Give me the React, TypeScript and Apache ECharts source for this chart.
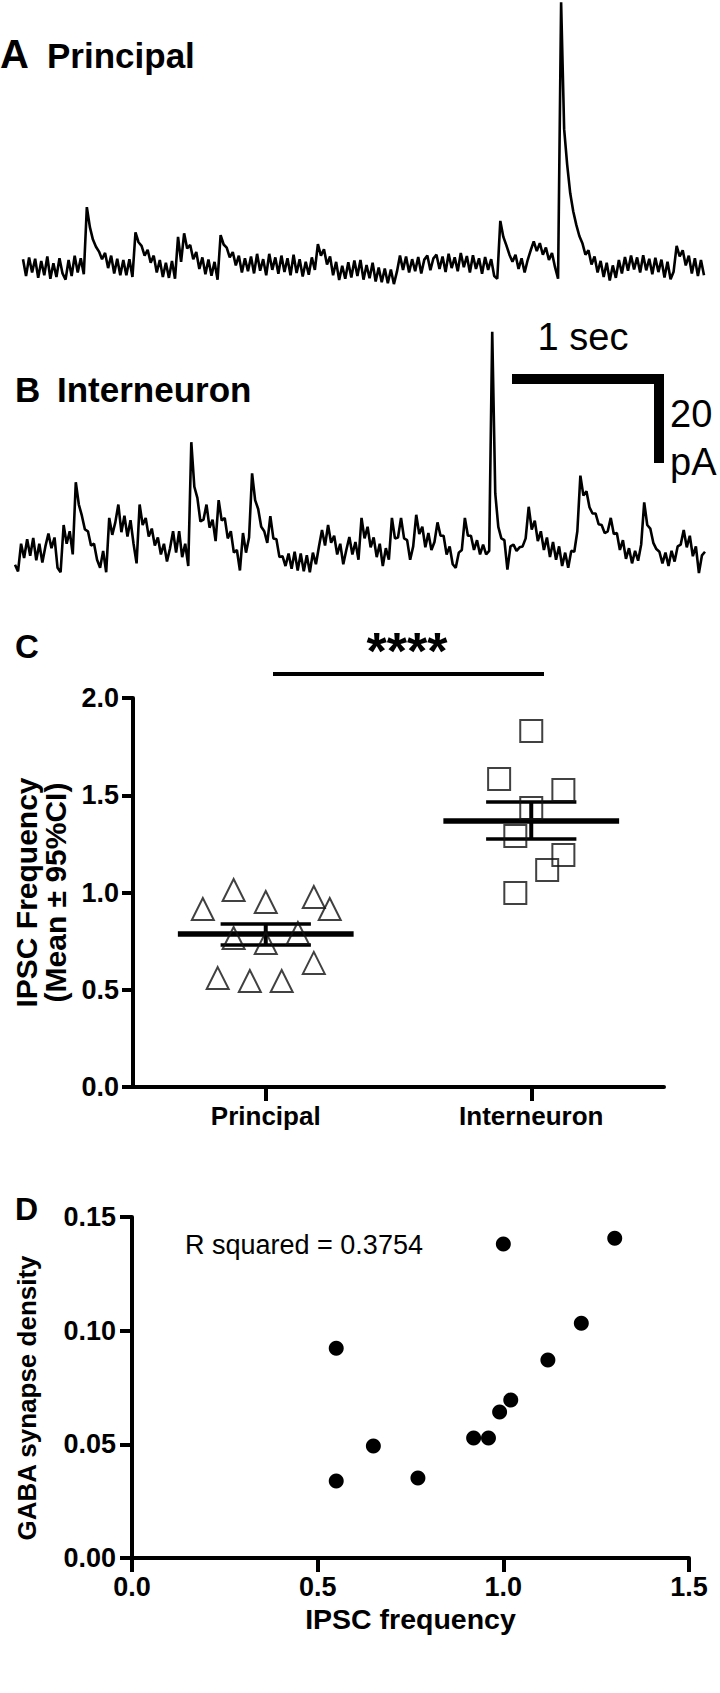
import React, { useEffect, useRef } from "react";
import * as echarts from "echarts";

const FONT = "'Liberation Sans', Arial, Helvetica, sans-serif";

// sample interval of the current traces (s)
const DT = 0.02;

// Panel A: principal cell trace, current above baseline (pA)
const TRACE_A_PA = [
  1.8, -2.0, 2.2, -1.2, 1.9, -2.4, 1.4, -1.8, 2.4, -2.6, 0.9, -2.2, 2.0, -1.4, -2.8, 1.6, -2.0, 2.6, -1.2, 2.0, -1.6,
  13.5, 9.0, 6.2, 4.6, 3.5, 1.8, 3.2, -0.2, 2.6, -1.4, 1.9, -1.8, 1.6, -1.8, 1.8, -2.2,
  7.8, 5.6, 4.8, 2.6, 3.9, 1.0, 2.6, -1.2, 1.6, -2.2, 1.0, -2.4, 1.4, -2.6,
  6.8, 1.2, 7.6, 4.2, 5.0, 1.8, 3.4, -0.4, 2.2, -1.6, 1.7, -1.9, 1.2, -2.8,
  7.2, 5.1, 4.4, 2.2, 3.4, 0.4, 2.6, -1.2, 2.0, -0.9, 2.4, -1.4, 3.0, -0.8, 1.8, -1.8, 3.0, -0.6, 2.2, -1.5, 2.6, -1.1, 2.0, -1.8, 2.8, -1.3, 1.8, -2.1, 1.2, -1.7, 2.2, -0.6,
  5.2, 2.6, 4.0, 0.6, 2.4, -1.8, 1.2, -2.9, 0.3, -2.6, 1.1, -2.3, 1.5, -2.0, 1.6, -2.8, 0.5, -2.5, 1.0, -3.2, -0.1, -3.4, -0.3, -3.6, -0.5, -3.8, -1.0,
  2.6, -0.6, 2.4, -1.2, 1.8, -0.9, 2.3, -1.4, 1.7, 2.6, -0.7, 2.0, 2.8, -0.4, 2.4, -1.1, 3.0, -0.2, 2.2, -0.9, 3.2, 0.0, 2.5, -1.2, 2.7, -0.4, 2.0, -1.5, 2.3, -0.6, 1.8, -2.0, -2.6,
  10.4, 6.8, 4.9, 2.8, 1.2, 2.8, -0.4, 2.0, -1.2, 1.6, 3.8, 5.8, 3.6, 5.4, 2.8, 4.4, 1.6, 3.2, 0.0, -2.6,
  59.5, 31, 23, 16.6, 12.5, 9.5, 7.0, 5.4, 2.8, 3.8, 0.6, 2.4, -1.2, 1.4, -2.2, 1.0, -3.0, 0.4, -2.4, 1.6, -1.4, 2.3, -0.8, 2.6, -0.5, 2.2, -1.2, 2.7, -0.7, 1.9, -1.6, 2.1, -1.1, 1.7, -2.3, 1.2, -2.7, -1.0,
  4.8, 2.4, 3.8, 0.4, 2.6, -1.4, 2.0, -2.0, 1.6, -1.8,
];

// Panel B: interneuron trace, current above baseline (pA)
const TRACE_B_PA = [
  -1.5, -3, 3.2, 0, 4.2, 0.5, 4.5, -0.5, 3.2, -1, 2.6, 5.5, 2.2, 4.6, -2.2, -3.2,
  7.4, 3.2, 6, 0.8, 17, 12, 9.5, 6.4, 6, 2.8, 3.2, -0.4, -2.2, 1.6, -3.2,
  9, 5.2, 8, 12, 5.8, 9.5, 4.8, 8.5, 3.2, -1.2, 12, 7.4, 9, 4.8, 6.6, 2.8, 4.6, 0.8, 3.2, -0.8, 2.2, 6, 1.2, 6, 0.2, 3.2, -1.8,
  26, 16, 13.5, 8.2, 8.6, 12, 6.8, 8.6, 3.8, 13, 8.4, 9, 4.4, 6, 1.2, 1.8, -2.8, 5.6, 1.2, 4.6,
  19, 13, 11, 7, 6, 3.4, 9.4, 4.4, 4.2, 0.2, 0.4, -1.8, 1, -2.4, 1.4, -2.8, 1, -3, 0.6, -3.2, 1.2, -1.4, 2.6,
  6.3, 2.8, 7.4, 3.4, 5, 0.8, 3.2, -1.4, 1.8, 4.7, 0.8, 3.6, -0.4, 9, 4.4, 7, 2.4, 4.6, 0.2, 3.2, -1.8, 2.2, -0.4,
  9, 4.4, 4.6, 9, 4.4, 4, -0.4, 2.6, 9.7, 5.4, 7, 2.4, 5.6, 1.8, 3.6, 8, 5, 5, 0.8, 2.6, -1.4, -2.2, 1.2, 1.8, 9, 5, 5, 1.8, 4, 0.8, 3, 0.8, 1.6,
  50.8, 14.5, 7, 4.4, 4, -2.6, 2.6, 3, 1.6, 2.4, 2.6, 4.4, 11.5, 6.4, 8.4, 3.8, 6, 1.8, 4.6, 0.2, 3.6, -0.4, 2.6, -1.8, 1.2, -2.2, 1.6, 1.4, 6,
  18.5, 14, 15, 11.4, 10, 10, 7.6, 7.4, 5.6, 6, 9, 5.4, 5.6, 1.8, 4, -0.2, 2.2, -1.2, 1.6, -0.6, 3,
  12.5, 7.4, 6.6, 3.4, 2, 1.4, -1.2, 1.2, -1.8, 1.6, -0.8, 2.6, 3, 6.3, 2.4, 5, 0.4, 2.6, -3.4, 0.6, 1.4,
];

// Panel C
const GROUPS = ["Principal", "Interneuron"];
const PRINCIPAL_JITTER = [-0.237, -0.121, 0, 0.181, 0.241, -0.121, 0, 0.121, 0.181, -0.181, -0.06, 0.06];
const PRINCIPAL_FREQ = [0.915, 1.013, 0.951, 0.977, 0.915, 0.766, 0.74, 0.792, 0.638, 0.56, 0.545, 0.545];
const INTER_JITTER = [0, -0.121, 0.121, 0, -0.06, 0.121, 0.06, -0.06];
const INTER_FREQ = [1.83, 1.584, 1.527, 1.434, 1.29, 1.193, 1.116, 0.997];
const GROUP_MEAN = [0.786, 1.368];
const GROUP_CI_LOW = [0.73, 1.275];
const GROUP_CI_HIGH = [0.838, 1.465];
const C_Y_MIN = 0;
const C_Y_MAX = 2;
const C_Y_STEP = 0.5;

// Panel D
const D_IPSC = [0.55, 0.55, 0.65, 0.77, 0.92, 0.96, 0.99, 1.02, 1.12, 1.21, 1.0, 1.3];
const D_GABA = [0.0923, 0.0339, 0.0493, 0.0352, 0.0528, 0.0528, 0.0642, 0.0695, 0.0871, 0.1033, 0.1381, 0.1407];
const D_X_MAX = 1.5;
const D_X_STEP = 0.5;
const D_Y_MAX = 0.15;
const D_Y_STEP = 0.05;
const R_SQUARED = "0.3754";

const MEAN_HALF = 0.331;
const CI_HALF = 0.17;

function boldAxis(extra: any) {
  return {
    axisLine: { show: true, onZero: false, lineStyle: { color: "#000", width: 4 } },
    axisTick: { show: true, length: 12, lineStyle: { color: "#000", width: 4 } },
    splitLine: { show: false },
    ...extra,
  };
}

export default function App() {
  const ref = useRef<HTMLDivElement>(null);

  useEffect(() => {
    document.body.style.margin = "0";
    if (!ref.current) return;
    const chart = echarts.init(ref.current, undefined, { renderer: "svg" });

    const traceA = TRACE_A_PA.map((v, i) => [i * DT, v]);
    const traceB = TRACE_B_PA.map((v, i) => [i * DT, v]);
    const principal = PRINCIPAL_FREQ.map((v, i) => [0 + PRINCIPAL_JITTER[i], v]);
    const inter = INTER_FREQ.map((v, i) => [1 + INTER_JITTER[i], v]);
    const summary = GROUPS.map((_, i) => [i, GROUP_MEAN[i], GROUP_CI_LOW[i], GROUP_CI_HIGH[i]]);
    const dPoints = D_IPSC.map((x, i) => [x, D_GABA[i]]);

    const txt = (text: string, x: number, y: number, size: number, bold: boolean, align = "left", rotation = 0) => ({
      type: "text",
      x,
      y,
      rotation,
      style: {
        text,
        fontSize: size,
        fontWeight: bold ? "bold" : "normal",
        fontFamily: FONT,
        fill: "#000",
        align,
        verticalAlign: "middle",
      },
    });

    const tickLabel = (margin: number, digits: number) => ({
      fontSize: 27,
      fontWeight: "bold",
      color: "#000",
      margin,
      fontFamily: FONT,
      formatter: (v: number) => v.toFixed(digits),
    });

    const option: any = {
      animation: false,
      backgroundColor: "#fff",
      textStyle: { fontFamily: FONT, color: "#000" },
      grid: [
        { left: 23, top: 0, width: 681, height: 285 },
        { left: 15, top: 317.5, width: 690, height: 258.3 },
        { left: 133, top: 698, width: 531, height: 389 },
        { left: 132, top: 1217, width: 557, height: 341 },
      ],
      xAxis: [
        { type: "value", gridIndex: 0, min: 0, max: (TRACE_A_PA.length - 1) * DT, show: false },
        { type: "value", gridIndex: 1, min: 0, max: (TRACE_B_PA.length - 1) * DT, show: false },
        boldAxis({
          type: "category",
          gridIndex: 2,
          data: GROUPS,
          boundaryGap: true,
          axisTick: { show: true, alignWithLabel: true, length: 14, lineStyle: { color: "#000", width: 4 } },
          axisLabel: { fontSize: 26, fontWeight: "bold", color: "#000", margin: 16, fontFamily: FONT },
        }),
        { type: "value", gridIndex: 2, min: -0.5, max: 1.5, show: false },
        boldAxis({
          type: "value",
          gridIndex: 3,
          min: 0,
          max: D_X_MAX,
          interval: D_X_STEP,
          axisTick: { show: true, length: 14, lineStyle: { color: "#000", width: 4 } },
          axisLabel: tickLabel(15, 1),
          name: "IPSC frequency",
          nameLocation: "middle",
          nameGap: 46,
          nameTextStyle: { fontSize: 28.5, fontWeight: "bold", color: "#000", fontFamily: FONT },
        }),
      ],
      yAxis: [
        { type: "value", gridIndex: 0, min: -4, max: 60, show: false },
        { type: "value", gridIndex: 1, min: -4, max: 54, show: false },
        boldAxis({
          type: "value",
          gridIndex: 2,
          min: C_Y_MIN,
          max: C_Y_MAX,
          interval: C_Y_STEP,
          axisTick: { show: true, length: 11, lineStyle: { color: "#000", width: 4 } },
          axisLabel: tickLabel(14, 1),
          name: "IPSC Frequency\n(Mean ± 95%CI)",
          nameLocation: "middle",
          nameRotate: 90,
          nameGap: 57,
          nameTextStyle: { fontSize: 30, fontWeight: "bold", color: "#000", lineHeight: 29, fontFamily: FONT },
        }),
        boldAxis({
          type: "value",
          gridIndex: 3,
          min: 0,
          max: D_Y_MAX,
          interval: D_Y_STEP,
          axisLabel: tickLabel(16, 2),
        }),
      ],
      series: [
        {
          type: "line",
          xAxisIndex: 0,
          yAxisIndex: 0,
          data: traceA,
          showSymbol: false,
          clip: false,
          lineStyle: { color: "#000", width: 2.6 },
        },
        {
          type: "line",
          xAxisIndex: 1,
          yAxisIndex: 1,
          data: traceB,
          showSymbol: false,
          clip: false,
          lineStyle: { color: "#000", width: 2.6 },
        },
        {
          type: "scatter",
          xAxisIndex: 3,
          yAxisIndex: 2,
          data: principal,
          symbol: "triangle",
          symbolSize: 22,
          itemStyle: { color: "transparent", borderColor: "#111", borderWidth: 2 },
        },
        {
          type: "scatter",
          xAxisIndex: 3,
          yAxisIndex: 2,
          data: inter,
          symbol: "rect",
          symbolSize: 22,
          itemStyle: { color: "transparent", borderColor: "#111", borderWidth: 2 },
        },
        {
          type: "custom",
          xAxisIndex: 3,
          yAxisIndex: 2,
          data: summary,
          encode: { x: 0, y: [1, 2, 3] },
          renderItem: (_params: any, api: any) => {
            const x = api.value(0);
            const m = api.value(1);
            const lo = api.value(2);
            const hi = api.value(3);
            const seg = (p1: number[], p2: number[], w: number) => ({
              type: "line",
              shape: { x1: p1[0], y1: p1[1], x2: p2[0], y2: p2[1] },
              style: { stroke: "#000", lineWidth: w },
            });
            return {
              type: "group",
              children: [
                seg(api.coord([x - MEAN_HALF, m]), api.coord([x + MEAN_HALF, m]), 5.5),
                seg(api.coord([x - CI_HALF, lo]), api.coord([x + CI_HALF, lo]), 3.5),
                seg(api.coord([x - CI_HALF, hi]), api.coord([x + CI_HALF, hi]), 3.5),
                seg(api.coord([x, lo]), api.coord([x, hi]), 4),
              ],
            };
          },
        },
        {
          type: "scatter",
          xAxisIndex: 4,
          yAxisIndex: 3,
          data: dPoints,
          symbol: "circle",
          symbolSize: 15,
          itemStyle: { color: "#000", opacity: 1 },
        },
      ],
      graphic: [
        txt("A", 0, 54, 40, true),
        txt("Principal", 47, 55.5, 35, true),
        txt("B", 15, 389.5, 35, true),
        txt("Interneuron", 57, 389.5, 35, true),
        { type: "rect", shape: { x: 512, y: 374, width: 152, height: 10 }, style: { fill: "#000" } },
        { type: "rect", shape: { x: 654, y: 374, width: 10, height: 89 }, style: { fill: "#000" } },
        txt("1 sec", 583, 337, 38, false, "center"),
        txt("20", 670, 414, 38, false),
        txt("pA", 670, 462, 38, false),
        txt("C", 15, 646, 33, true),
        { type: "line", shape: { x1: 273, y1: 674, x2: 544, y2: 674 }, style: { stroke: "#000", lineWidth: 4 } },
        txt("****", 407, 651, 52, true, "center"),
        txt("D", 15, 1208.5, 32, true),
        txt("R squared = " + R_SQUARED, 185, 1245, 27, false),
        txt("GABA synapse density", 27, 1398, 26, true, "center", Math.PI / 2),
      ],
    };

    chart.setOption(option);
    return () => chart.dispose();
  }, []);

  return <div ref={ref} style={{ width: 720, height: 1693 }} />;
}
